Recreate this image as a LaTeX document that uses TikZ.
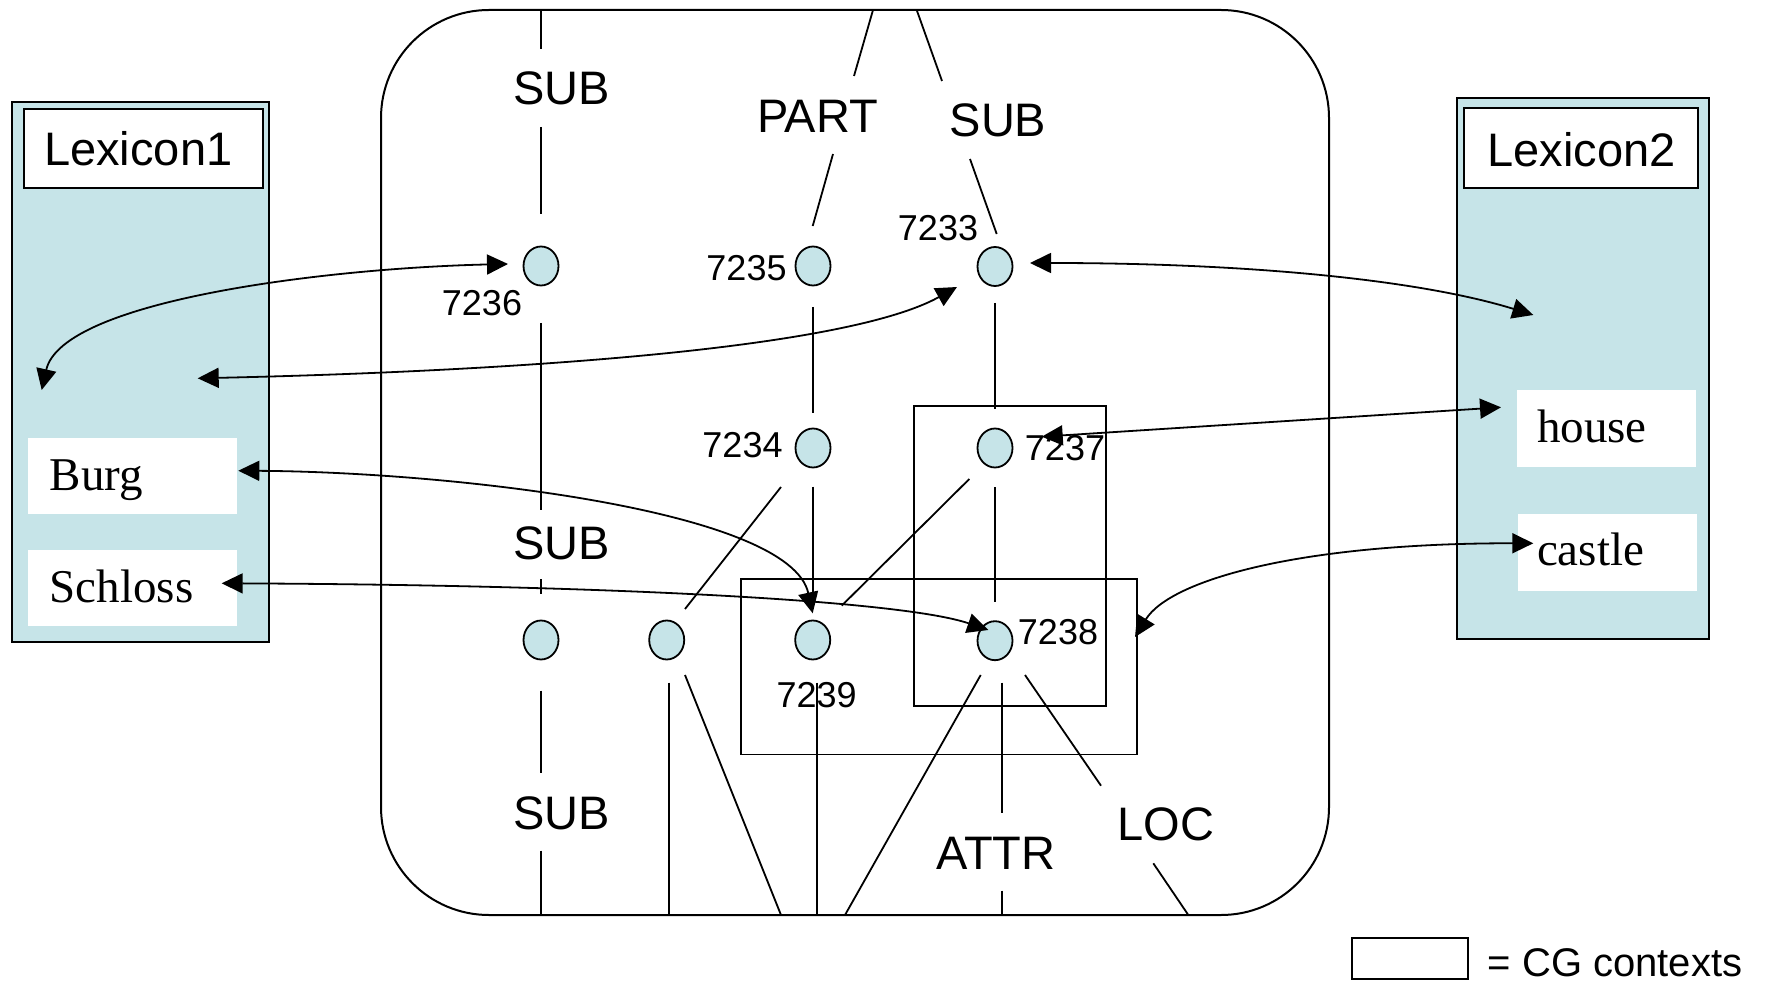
\documentclass[tikz,border=0pt]{standalone}
\usepackage{fontspec}
\setmainfont{Liberation Serif}
\setsansfont{Liberation Sans}
\usetikzlibrary{shapes.geometric,arrows.meta}
\definecolor{lexfill}{RGB}{198,228,232}
\begin{document}
\begin{tikzpicture}[x=0.5pt,y=-0.5pt,
  ln/.style={line width=0.9pt},
  arr/.style={line width=0.9pt,{Triangle[length=10.5pt,width=10pt]}-{Triangle[length=10.5pt,width=10pt]}},
  concept/.style={ellipse,draw,line width=0.9pt,fill=lexfill,minimum width=17.5pt,minimum height=19.5pt,inner sep=0pt},
  rel/.style={font=\sffamily\fontsize{23.5}{28}\selectfont,inner sep=0pt},
  num/.style={font=\sffamily\fontsize{18}{21}\selectfont,inner sep=0pt},
  lexbox/.style={draw,line width=1pt,fill=lexfill,inner sep=0pt},
  titlebox/.style={draw,line width=1pt,fill=white,inner sep=0pt},
  titletext/.style={font=\sffamily\fontsize{23.5}{28}\selectfont,inner sep=0pt},
  wordbox/.style={fill=white,inner sep=0pt},
  word/.style={font=\rmfamily\fontsize{23.5}{28}\selectfont,inner sep=0pt,anchor=base west},
  ctx/.style={draw,line width=0.9pt,inner sep=0pt}]
\useasboundingbox (0,0) rectangle (1775,983);

% lexicon panels
\node[lexbox,minimum width=128.5pt,minimum height=270pt] (lex1) at (140.8,372) {};
\node[titlebox,minimum width=119.65pt,minimum height=39.5pt] (title1) at (143.65,148.2) {};
\node[titletext] (title1t) at (138.3,148.8) {Lexicon1};
\node[wordbox,minimum width=104.2pt,minimum height=38pt] (burgbox) at (132.5,476.3) {};
\node[wordbox,minimum width=104.2pt,minimum height=38pt] (schlossbox) at (132.5,588) {};
\node[word] (burg) at (49.3,490.7) {Burg};
\node[word] (schloss) at (49.3,602.4) {Schloss};

\node[lexbox,minimum width=126.15pt,minimum height=270.1pt] (lex2) at (1582.85,368.4) {};
\node[titlebox,minimum width=117pt,minimum height=39.7pt] (title2) at (1581.3,148) {};
\node[titletext] (title2t) at (1581.5,149.5) {Lexicon2};
\node[wordbox,minimum width=89.35pt,minimum height=38.35pt] (housebox) at (1606.65,428.35) {};
\node[wordbox,minimum width=89.2pt,minimum height=38.35pt] (castlebox) at (1607.5,552.35) {};
\node[word] (house) at (1536.7,442.3) {house};
\node[word] (castle) at (1536.7,565) {castle};

% big frame
\node[draw,line width=1pt,rounded corners=54pt,minimum width=474pt,minimum height=452.5pt,inner sep=0pt] (frame) at (855,462.5) {};

% CG contexts
\node[ctx,minimum width=96pt,minimum height=150pt] (ctxA) at (1010,556) {};
\node[ctx,minimum width=198pt,minimum height=87.75pt] (ctxB) at (939,666.75) {};

% relation lines
\draw[ln] (541,10) -- (541,49);
\draw[ln] (541,127) -- (541,214);
\draw[ln] (541,323) -- (541,510);
\draw[ln] (541,579) -- (541,594.3);
\draw[ln] (541,690.7) -- (541,773.3);
\draw[ln] (541,850.7) -- (541,915);
\draw[ln] (669,682.7) -- (669,915);
\draw[ln] (685,675) -- (781,915);
\draw[ln] (781,487) -- (685,609);
\draw[ln] (812.7,226) -- (833,154);
\draw[ln] (854,76) -- (873,10);
\draw[ln] (813,307) -- (813,413);
\draw[ln] (813,486.7) -- (813,603);
\draw[ln] (942,81) -- (916.7,10);
\draw[ln] (996.7,234) -- (970,159);
\draw[ln] (995,303) -- (995,409);
\draw[ln] (995,487) -- (995,601.7);
\draw[ln] (969.3,479) -- (841.7,605.7);
\draw[ln] (816.7,682.7) -- (816.7,915);
\draw[ln] (980.7,675) -- (845,915);
\draw[ln] (1001.7,682.7) -- (1001.7,813.3);
\draw[ln] (1001.7,890.7) -- (1001.7,915);
\draw[ln] (1025,675) -- (1101,785.7);
\draw[ln] (1153.3,863.3) -- (1188.3,915);

% concept nodes
\node[concept] (n7236) at (541,266) {};
\node[concept] (n7235) at (813,266) {};
\node[concept] (n7233) at (995,266.5) {};
\node[concept] (n7234) at (813,448) {};
\node[concept] (n7237) at (995,448) {};
\node[concept] (nb1) at (541,640) {};
\node[concept] (nb2) at (666.7,640) {};
\node[concept] (n7239) at (812.7,640) {};
\node[concept] (n7238) at (995,640.7) {};

% relation labels
\node[rel] (sub1) at (561.5,88.5) {SUB};
\node[rel] (part) at (817.5,116.5) {PART};
\node[rel] (sub2) at (998,120.5) {SUB};
\node[rel] (sub3) at (561.5,543.5) {SUB};
\node[rel] (sub4) at (561.5,813.8) {SUB};
\node[rel] (attr) at (995.8,853) {ATTR};
\node[rel] (loc) at (1165.8,824.8) {LOC};

% number labels
\node[num] (l7236) at (482,303.5) {7236};
\node[num] (l7235) at (746.5,268.5) {7235};
\node[num] (l7233) at (938,228) {7233};
\node[num] (l7234) at (742.5,445) {7234};
\node[num] (l7237) at (1065,448.5) {7237};
\node[num] (l7239) at (816.7,695) {7239};
\node[num] (l7238) at (1058,632.5) {7238};

% arrow end points
\coordinate (L1a) at (41.7,390);
\coordinate (L1b) at (197.7,378.3);
\coordinate (t7236) at (508,264);
\coordinate (t7233a) at (957,287);
\coordinate (t7233b) at (1030,263);
\coordinate (L2a) at (1533.3,315);
\coordinate (t7237) at (1041.7,436.7);
\coordinate (thouse) at (1501,407.3);
\coordinate (tcastle) at (1533.3,543.3);
\coordinate (tctx) at (1135,637);
\coordinate (tburg) at (238.3,470.7);
\coordinate (t7239) at (812.7,613.3);
\coordinate (tschloss) at (221.7,583.3);
\coordinate (t7238) at (988.3,630);

% arrows
\draw[arr] (L1a) .. controls (62,300) and (330,268) .. (t7236);
\draw[arr] (L1b) .. controls (480,372) and (840,352) .. (t7233a);
\draw[arr] (t7233b) .. controls (1250,263) and (1420,280) .. (L2a);
\draw[arr] (t7237) -- (thouse);
\draw[arr] (tcastle) .. controls (1300,543) and (1170,580) .. (tctx);
\draw[arr] (tburg) .. controls (450,472) and (790,510) .. (t7239);
\draw[arr] (tschloss) .. controls (600,585) and (900,600) .. (t7238);

% legend
\node[ctx,minimum width=58.3pt,minimum height=20.5pt] (legbox) at (1410,958.8) {};
\node[font=\sffamily\fontsize{20}{24}\selectfont,inner sep=0pt,anchor=west] (legtext) at (1487.3,962.5) {= CG contexts};
\end{tikzpicture}
\end{document}
